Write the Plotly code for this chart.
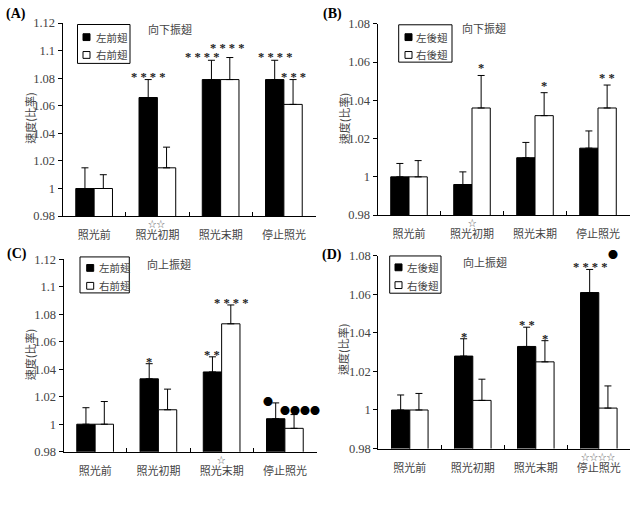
import plotly.graph_objects as go

# ---------------- data ----------------
categories = ["照光前", "照光初期", "照光末期", "停止照光"]

# (A) 向下振翅, forewings
a_left = [1.000, 1.066, 1.079, 1.079]
a_left_err = [0.015, 0.013, 0.014, 0.014]
a_right = [1.000, 1.015, 1.079, 1.061]
a_right_err = [0.010, 0.015, 0.016, 0.018]
a_sig_left = ["", "****", "****", "****"]
a_sig_right = ["", "", "****", "***"]
a_sig_below = ["", "☆☆", "", ""]

# (B) 向下振翅, hindwings
b_left = [1.000, 0.996, 1.010, 1.015]
b_left_err = [0.007, 0.0066, 0.008, 0.009]
b_right = [1.000, 1.036, 1.032, 1.036]
b_right_err = [0.0085, 0.017, 0.012, 0.012]
b_sig_left = ["", "", "", ""]
b_sig_right = ["", "*", "*", "**"]
b_sig_below = ["", "☆", "", ""]

# (C) 向上振翅, forewings
c_left = [1.000, 1.033, 1.038, 1.004]
c_left_err = [0.012, 0.011, 0.011, 0.0115]
c_right = [1.000, 1.0105, 1.073, 0.997]
c_right_err = [0.0165, 0.015, 0.0137, 0.010]
c_sig_left = ["", "*", "**", "●"]
c_sig_right = ["", "", "****", "●●●●"]
c_sig_below = ["", "", "☆", ""]

# (D) 向上振翅, hindwings
d_left = [1.000, 1.028, 1.033, 1.061]
d_left_err = [0.0078, 0.009, 0.010, 0.012]
d_right = [1.000, 1.005, 1.025, 1.001]
d_right_err = [0.0086, 0.011, 0.011, 0.0115]
d_sig_left = ["", "*", "**", "****"]
d_sig_right = ["", "", "*", "●"]
d_sig_below = ["", "", "", "☆☆☆☆"]

ticks_a = [0.98, 1.00, 1.02, 1.04, 1.06, 1.08, 1.10, 1.12]
ticklabels_a = ["0.98", "1", "1.02", "1.04", "1.06", "1.08", "1.1", "1.12"]
ticks_b = [0.98, 1.00, 1.02, 1.04, 1.06, 1.08]
ticklabels_b = ["0.98", "1", "1.02", "1.04", "1.06", "1.08"]

fore_names = ["左前翅", "右前翅"]
hind_names = ["左後翅", "右後翅"]
titles = {"A": "向下振翅", "B": "向下振翅", "C": "向上振翅", "D": "向上振翅"}
ytitle = "速度(比率)"

# ---------------- layout helpers ----------------
W, H = 634, 509
def px(x):
    return x / W
def py(y):
    return 1 - y / H

CJK = "Noto Sans CJK TC"
SERIF = "Liberation Serif"
TXT = "#444444"

panels = [
    dict(key="A", ax="", left=a_left, le=a_left_err, right=a_right, re=a_right_err,
         sl=a_sig_left, sr=a_sig_right, sb=a_sig_below, names=fore_names,
         ticks=ticks_a, tl=ticklabels_a, rng=[0.98, 1.12],
         dom=(62.5, 315.5, 16.5, 215), shift=3,
         box=(77.5, 18, 130, 58), sq=83, tx=94, rows=(31, 49.3),
         title=(170, 22.7), letter=(16, 7.5), yt=(30, 115)),
    dict(key="B", ax="2", left=b_left, le=b_left_err, right=b_right, re=b_right_err,
         sl=b_sig_left, sr=b_sig_right, sb=b_sig_below, names=hind_names,
         ticks=ticks_b, tl=ticklabels_b, rng=[0.98, 1.08],
         dom=(377.5, 629.5, 17.3, 214), shift=7,
         box=(398.7, 18.3, 452, 56.7), sq=405, tx=414, rows=(31, 49.3),
         title=(484, 21.7), letter=(332.5, 7.5), yt=(343.5, 115)),
    dict(key="C", ax="3", left=c_left, le=c_left_err, right=c_right, re=c_right_err,
         sl=c_sig_left, sr=c_sig_right, sb=c_sig_below, names=fore_names,
         ticks=ticks_a, tl=ticklabels_a, rng=[0.98, 1.12],
         dom=(63.5, 316.5, 259.3, 457.3), shift=2,
         box=(80, 257, 129.3, 294), sq=86.7, tx=96.7, rows=(268.3, 286.7),
         title=(169, 264.3), letter=(17, 253.5), yt=(30, 358)),
    dict(key="D", ax="4", left=d_left, le=d_left_err, right=d_right, re=d_right_err,
         sl=d_sig_left, sr=d_sig_right, sb=d_sig_below, names=hind_names,
         ticks=ticks_b, tl=ticklabels_b, rng=[0.98, 1.08],
         dom=(378.3, 630.3, 256, 454), shift=2,
         box=(389.7, 256, 441, 294.3), sq=395, tx=405, rows=(267.7, 286),
         title=(484.5, 262.3), letter=(332, 254.5), yt=(343.7, 352)),
]

# per-mark nudges (panel, side, category) -> (xshift, yshift)
nudges = {
    ("A", "L", 2): (-9, 0),
    ("A", "R", 2): (-3, 7),
    ("C", "L", 3): (-8, -1),
    ("C", "R", 3): (6, 2),
}

BAR_OFF = 0.145

fig = go.Figure()
shapes = []
annotations = []
layout_axes = {}

for p in panels:
    xa = "x" + p["ax"]
    ya = "y" + p["ax"]
    x0, x1, y0, y1 = p["dom"]
    for vals, errs, fill, name in ((p["left"], p["le"], "black", p["names"][0]),
                                   (p["right"], p["re"], "white", p["names"][1])):
        fig.add_trace(go.Bar(
            x=categories, y=vals, name=name, showlegend=False,
            xaxis=xa, yaxis=ya,
            marker=dict(color=fill, line=dict(color="black", width=1)),
            error_y=dict(type="data", symmetric=False, array=errs,
                         arrayminus=[0] * len(errs), color="black",
                         thickness=1, width=3.5),
        ))
    layout_axes["xaxis" + p["ax"]] = dict(
        domain=[px(x0), px(x1)], anchor=ya, type="category",
        range=[-0.5, 3.5], showline=True, linecolor="black", linewidth=1,
        ticks="inside", tickson="boundaries", ticklen=4, tickcolor="black",
        showgrid=False, zeroline=False, ticklabelstandoff=9,
        tickfont=dict(family=CJK, size=11, color=TXT),
    )
    layout_axes["yaxis" + p["ax"]] = dict(
        domain=[py(y1), py(y0)], anchor=xa, range=p["rng"],
        tickvals=p["ticks"], ticktext=p["tl"],
        showline=True, linecolor="black", linewidth=1,
        ticks="outside", ticklen=4, tickcolor="black",
        showgrid=False, zeroline=False,
        tickfont=dict(family=SERIF, size=12.5, color=TXT),
    )
    # significance marks above bars
    for side, sigs, vals, errs, off in (("L", p["sl"], p["left"], p["le"], -BAR_OFF),
                                        ("R", p["sr"], p["right"], p["re"], BAR_OFF)):
        for i, s in enumerate(sigs):
            if not s:
                continue
            dx, dy = nudges.get((p["key"], side, i), (0, 0))
            if "●" in s:
                font = dict(family=CJK, size=10, color="black")
                label = s
            else:
                font = dict(family=SERIF, size=12.5, color="#222222", weight="bold")
                label = " ".join(s)
            if p["key"] == "D" and "●" in s:
                annotations.append(dict(
                    x=i + off, y=1, xref=xa, yref=ya + " domain", text=label,
                    showarrow=False, xanchor="center", yanchor="middle",
                    xshift=5, yshift=1.5, font=font))
                continue
            annotations.append(dict(
                x=i + off, y=vals[i] + errs[i], xref=xa, yref=ya, text=label,
                showarrow=False, xanchor="center", yanchor="middle",
                xshift=dx, yshift=p["shift"] + dy, font=font))
    # stars below axis
    for i, s in enumerate(p["sb"]):
        if s:
            annotations.append(dict(
                x=i, y=0, xref=xa, yref=ya + " domain", text=s, showarrow=False,
                xanchor="center", yanchor="top", yshift=1,
                font=dict(family=CJK, size=8.5, color="#666666")))
    # title, panel letter, y title
    tx, ty = p["title"]
    annotations.append(dict(x=px(tx), y=py(ty), xref="paper", yref="paper",
                            text=titles[p["key"]], showarrow=False,
                            xanchor="center", yanchor="middle",
                            font=dict(family=CJK, size=11, color=TXT)))
    lx, ly = p["letter"]
    annotations.append(dict(x=px(lx), y=py(ly), xref="paper", yref="paper",
                            text="(" + p["key"] + ")", showarrow=False,
                            xanchor="center", yanchor="middle",
                            font=dict(family=SERIF, size=14, color="black",
                                      weight="bold")))
    yx, yy = p["yt"]
    annotations.append(dict(x=px(yx), y=py(yy), xref="paper", yref="paper",
                            text=ytitle, showarrow=False, textangle=-90,
                            xanchor="center", yanchor="middle",
                            font=dict(family=CJK, size=11, color=TXT)))
    # legend box
    bx0, by0, bx1, by1 = p["box"]
    shapes.append(dict(type="rect", xref="paper", yref="paper",
                       x0=px(bx0), x1=px(bx1), y0=py(by1), y1=py(by0),
                       line=dict(color="black", width=1), fillcolor="white",
                       layer="above"))
    for r, fill, name in zip(p["rows"], ("black", "white"), p["names"]):
        shapes.append(dict(type="rect", xref="paper", yref="paper",
                           x0=px(p["sq"]), x1=px(p["sq"] + 7),
                           y0=py(r + 3.5), y1=py(r - 3.5),
                           line=dict(color="black", width=1), fillcolor=fill,
                           layer="above"))
        annotations.append(dict(x=px(p["tx"]), y=py(r), xref="paper", yref="paper",
                                text=name, showarrow=False, xanchor="left",
                                yanchor="middle",
                                font=dict(family=CJK, size=10.5, color=TXT)))

fig.update_layout(
    width=W, height=H, margin=dict(l=0, r=0, t=0, b=0),
    paper_bgcolor="white", plot_bgcolor="white",
    barmode="group", bargap=0.42, bargroupgap=0,
    showlegend=False, shapes=shapes, annotations=annotations,
    **layout_axes,
)

fig.write_html("out.html")
